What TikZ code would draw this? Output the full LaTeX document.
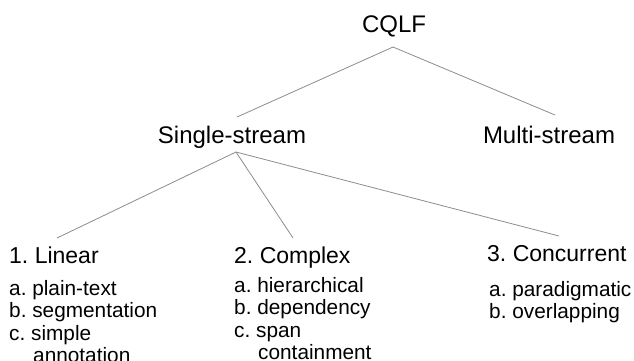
\documentclass[tikz,border=0pt]{standalone}
\usepackage{fontspec}
\setmainfont{Liberation Sans}
\usetikzlibrary{calc}
\frenchspacing
\tikzset{
  conn/.style={draw=black!45, line width=0.8pt},
  toplbl/.style={inner sep=0pt, anchor=base, font=\fontsize{24}{28}\selectfont},
  catlbl/.style={inner sep=0pt, anchor=base west, font=\fontsize{23}{27}\selectfont},
  subitem/.style={inner sep=0pt, anchor=base west, font=\fontsize{20.8}{22.5}\selectfont},
}
\begin{document}
\begin{tikzpicture}[x=1pt,y=-1pt]
\useasboundingbox (0,0) rectangle (634,360);
\node[toplbl] (cqlf) at (394,32) {CQLF};
\node[toplbl] (single) at (232,143) {Single-stream};
\node[toplbl] (multi) at (549,143) {Multi-stream};
\node[catlbl] (linear) at (9,263) {1. Linear};
\node[catlbl] (complex) at (234,263) {2. Complex};
\node[catlbl] (concurrent) at (487,261) {3. Concurrent};
% Linear sub-items
\node[subitem] (lina) at (9,295) {a. plain-text};
\node[subitem] (linb) at (9,317.5) {b. segmentation};
\node[subitem] (linc) at (9,340) {c. simple};
\node[subitem] (lind) at (33,362.5) {annotation};
% Complex sub-items
\node[subitem] (compa) at (234,292) {a. hierarchical};
\node[subitem] (compb) at (234,314.5) {b. dependency};
\node[subitem] (compc) at (234,337) {c. span};
\node[subitem] (compd) at (258,359.5) {containment};
% Concurrent sub-items
\node[subitem] (conca) at (489,296) {a. paradigmatic};
\node[subitem] (concb) at (489,318.5) {b. overlapping};
\draw[conn] ($(cqlf.base)+(-1,15)$) -- ($(single.base)+(5,-26)$);
\draw[conn] ($(cqlf.base)+(-1,15)$) -- ($(multi.base)+(6,-28)$);
\draw[conn] ($(single.base)+(4,9)$) -- ($(linear.base west)+(48,-25)$);
\draw[conn] ($(single.base)+(4,9)$) -- ($(complex.base west)+(59,-25)$);
\draw[conn] ($(single.base)+(4,9)$) -- ($(concurrent.base west)+(72,-25)$);
\end{tikzpicture}
\end{document}
